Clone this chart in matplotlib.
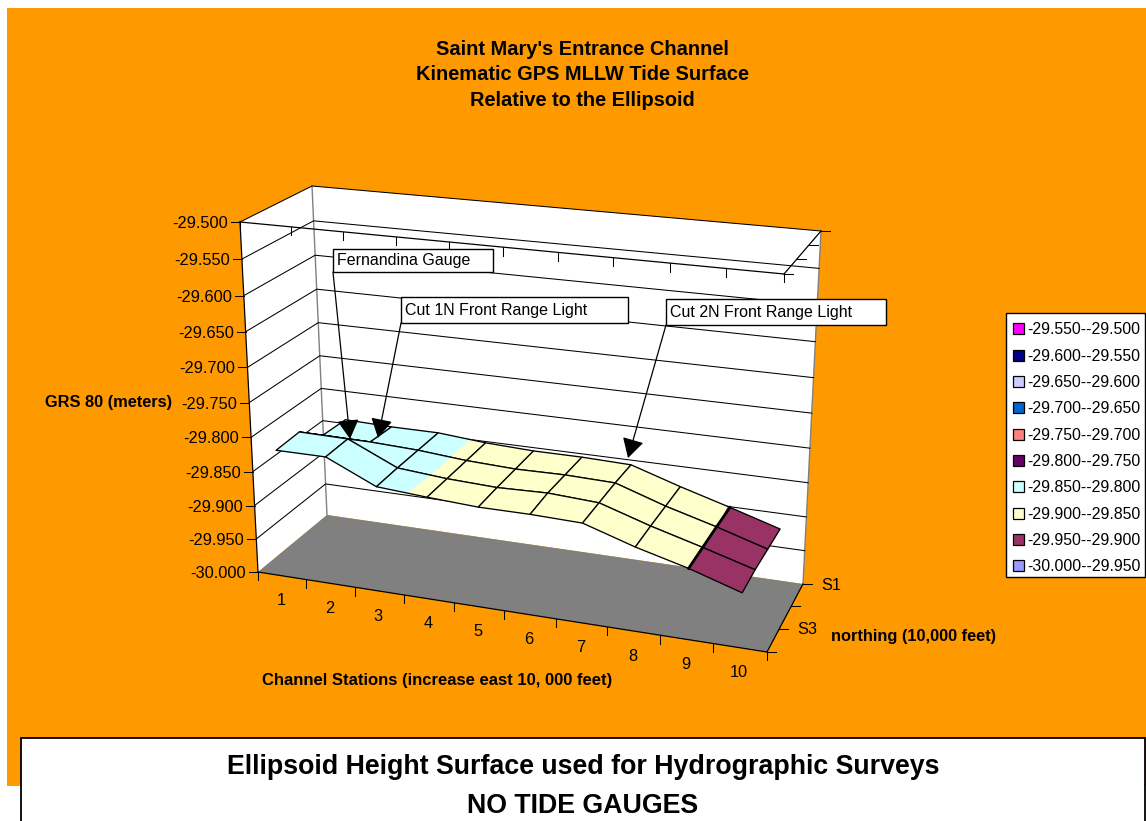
import matplotlib
matplotlib.use("Agg")
import matplotlib.pyplot as plt
from matplotlib.patches import Polygon, Rectangle, Patch

plt.rcParams['font.family'] = ['Liberation Sans', 'DejaVu Sans']

# data
stations = ['1', '2', '3', '4', '5', '6', '7', '8', '9', '10']
series_labels = ['S1', '', 'S3', '']
s1 = [-29.844, -29.846, -29.846, -29.852, -29.855, -29.855, -29.857, -29.880, -29.901, -29.923]
s2 = [-29.842, -29.843, -29.846, -29.852, -29.855, -29.854, -29.856, -29.880, -29.900, -29.922]
s3 = [-29.812, -29.813, -29.846, -29.852, -29.855, -29.853, -29.857, -29.880, -29.900, -29.921]
s4 = [-29.814, -29.814, -29.847, -29.852, -29.856, -29.856, -29.858, -29.881, -29.900, -29.923]
heights = [s1, s2, s3, s4]

z_ticks = [-30.0, -29.95, -29.9, -29.85, -29.8, -29.75, -29.7, -29.65, -29.6, -29.55, -29.5]
band_edges = [-30.0, -29.95, -29.9, -29.85, -29.8, -29.75, -29.7, -29.65, -29.6, -29.55, -29.5]
band_colors = ['#9999FF', '#993366', '#FFFFCC', '#CCFFFF', '#660066',
               '#FF8080', '#0066CC', '#CCCCFF', '#000080', '#FF00FF']
band_labels = ['-30.000--29.950', '-29.950--29.900', '-29.900--29.850', '-29.850--29.800',
               '-29.800--29.750', '-29.750--29.700', '-29.700--29.650', '-29.650--29.600',
               '-29.600--29.550', '-29.550--29.500']

title = "Saint Mary's Entrance Channel\nKinematic GPS MLLW Tide Surface\nRelative to the Ellipsoid"

# screen position of the 3d box corners
FLB, FRB, BLB, BRB = (258, 572), (767, 652), (327, 515), (803, 584)
FLT, FRT, BLT, BRT = (240, 222), (784, 274), (312, 186), (821, 231)


def warp(f, k):
    return f / (1 + k * (1 - f))


def lerp(a, b, t):
    return (a[0] + (b[0] - a[0]) * t, a[1] + (b[1] - a[1]) * t)


# x 0-1 along stations, y 0-1 back to front, z in meters
def proj(x, y, z):
    u = warp(x, 0.066)
    v = warp(y, 0.03)
    w = warp((z - z_ticks[0]) / (z_ticks[-1] - z_ticks[0]), 0.066)
    bot = lerp(lerp(BLB, BRB, u), lerp(FLB, FRB, u), v)
    top = lerp(lerp(BLT, BRT, u), lerp(FLT, FRT, u), v)
    return lerp(bot, top, w)


def clip(pts, limit, keep_above):
    out = []
    for i in range(len(pts)):
        a, b = pts[i], pts[(i + 1) % len(pts)]
        a_in = a[2] >= limit if keep_above else a[2] <= limit
        b_in = b[2] >= limit if keep_above else b[2] <= limit
        if a_in:
            out.append(a)
        if a_in != b_in:
            t = (limit - a[2]) / (b[2] - a[2])
            out.append((a[0] + (b[0] - a[0]) * t, a[1] + (b[1] - a[1]) * t, limit))
    return out


fig = plt.figure(figsize=(11.46, 8.21), dpi=100, facecolor='white')
ax = fig.add_axes([0, 0, 1, 1])
ax.set_xlim(0, 1146)
ax.set_ylim(821, 0)
ax.axis('off')

ax.add_patch(Rectangle((7, 8), 1139, 778, fc='#FF9900', ec='none', zorder=0))

# walls and floor
ax.add_patch(Polygon([FLB, BLB, BLT, FLT], fc='white', ec='none', zorder=1))
ax.add_patch(Polygon([BLB, BRB, BRT, BLT], fc='white', ec='none', zorder=1))
ax.add_patch(Polygon([FLB, FRB, BRB, BLB], fc='#808080', ec='none', zorder=1))
for c0, c1 in [(BLB, BLT), (BRB, BRT)]:
    ax.plot([c0[0], c1[0]], [c0[1], c1[1]], color='#808080', lw=1, zorder=2)

# gridlines
for z in z_ticks[1:]:
    a, b, c = proj(0, 1, z), proj(0, 0, z), proj(1, 0, z)
    ax.plot([a[0], b[0], c[0]], [a[1], b[1], c[1]], color='black', lw=0.75, zorder=2)

# box edges
for c0, c1 in [(FLB, FLT), (FLT, FRT), (FRT, BRT), (FLB, FRB), (FRB, BRB)]:
    ax.plot([c0[0], c1[0]], [c0[1], c1[1]], color='black', lw=0.9, zorder=3)

# ticks and labels
for z in z_ticks:
    p = proj(0, 1, z)
    ax.plot([p[0] - 9, p[0]], [p[1], p[1]], color='black', lw=0.75, zorder=3)
    ax.text(p[0] - 12, p[1] + 1.5, '%.3f' % z, ha='right', va='center', fontsize=11.8)

for i in range(len(stations) + 1):
    x = i / len(stations)
    for z in (z_ticks[0], z_ticks[-1]):
        p = proj(x, 1, z)
        ax.plot([p[0], p[0]], [p[1], p[1] + 8.5], color='black', lw=0.75, zorder=3)

for i, name in enumerate(stations):
    p = proj((i + 0.5) / len(stations), 1, z_ticks[0])
    ax.text(p[0] - 1, p[1] + 25, name, ha='center', va='center', fontsize=11.8)

for j, name in enumerate(series_labels):
    y = j / (len(series_labels) - 1)
    for z in (z_ticks[0], z_ticks[-1]):
        p = proj(1, y, z)
        ax.plot([p[0], p[0] + 9], [p[1], p[1]], color='black', lw=0.75, zorder=3)
    p = proj(1, y, z_ticks[0])
    ax.text(p[0] + 18, p[1] + 1, name, ha='left', va='center', fontsize=11.8)

# surface, back row first
order = 10
n_rows, n_cols = len(heights), len(stations)
for j in range(n_rows - 1):
    for i in range(n_cols - 1):
        corners = [(i, j), (i + 1, j), (i + 1, j + 1), (i, j + 1)]
        pts = []
        for ci, cj in corners:
            z = heights[cj][ci]
            px = proj((ci + 0.5) / n_cols, cj / (n_rows - 1), z)
            pts.append((px[0], px[1], z))
        for k, color in enumerate(band_colors):
            part = clip(pts, band_edges[k], True)
            if part:
                part = clip(part, band_edges[k + 1], False)
            if len(part) > 2:
                ax.add_patch(Polygon([(q[0], q[1]) for q in part], fc=color, ec=color,
                                     lw=0.2, zorder=order))
        order += 1
        ax.add_patch(Polygon([(q[0], q[1]) for q in pts], fc='none', ec='black',
                             lw=0.95, zorder=order, joinstyle='round'))
        if i == 8:
            ax.plot([pts[0][0], pts[3][0]], [pts[0][1], pts[3][1]], color='black',
                    lw=2, zorder=order)
        order += 1

# callouts
notes = [('Fernandina Gauge', (333, 249, 493, 272), (333, 272), (350, 439)),
         ('Cut 1N Front Range Light', (401, 297, 628, 323), (401, 323), (378, 438)),
         ('Cut 2N Front Range Light', (666, 299, 886, 325), (666, 325), (628, 458))]
for text, box, start, tip in notes:
    ax.annotate('', xy=tip, xytext=start, zorder=80,
                arrowprops=dict(arrowstyle='-|>,head_length=0.75,head_width=0.42', color='black',
                                lw=0.9, shrinkA=0, shrinkB=0, mutation_scale=16))
    ax.add_patch(Rectangle((box[0], box[1]), box[2] - box[0], box[3] - box[1],
                           fc='white', ec='black', lw=1, zorder=90))
    ax.text(box[0] + 4, (box[1] + box[3]) / 2, text, ha='left', va='center',
            fontsize=11.55, zorder=91)

# titles
ax.text(582, 75, title, ha='center', va='center', fontsize=14.4, fontweight='bold',
        linespacing=1.44)
ax.text(109, 402, 'GRS 80 (meters)', ha='center', va='center', fontsize=11.8, fontweight='bold')
ax.text(437, 680, 'Channel Stations (increase east 10, 000 feet)', ha='center', va='center',
        fontsize=12, fontweight='bold')
ax.text(914, 636, 'northing (10,000 feet)', ha='center', va='center', fontsize=11.8,
        fontweight='bold')

# legend, top band first. frame drawn apart so it keeps the size of the reference
ax.add_patch(Rectangle((1006, 313), 139, 264, fc='white', ec='black', lw=1, zorder=4))
handles = [Patch(fc=c, ec='black', lw=0.9) for c in band_colors[::-1]]
ax.legend(handles, band_labels[::-1], loc='upper left', bbox_to_anchor=(1006 / 1146, 1 - 315 / 821),
          bbox_transform=ax.transAxes, fontsize=11.4, frameon=False, handlelength=0.68,
          handleheight=0.68, handletextpad=0.2, borderaxespad=0, borderpad=0.47,
          labelspacing=0.715).set_zorder(5)

# note box at the bottom
ax.add_patch(Rectangle((21, 738), 1124, 100, fc='white', ec='black', lw=1.3, zorder=95))
ax.text(583, 767, 'Ellipsoid Height Surface used for Hydrographic Surveys', ha='center',
        va='center', fontsize=19.3, fontweight='bold', zorder=96)
ax.text(583, 806, 'NO TIDE GAUGES', ha='center', va='center', fontsize=19.3, fontweight='bold',
        zorder=96)

plt.savefig('out.png', dpi=100, facecolor=fig.get_facecolor())
